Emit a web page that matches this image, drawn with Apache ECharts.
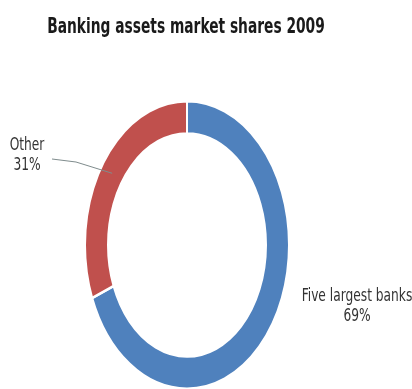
<!DOCTYPE html>
<html>
<head>
<meta charset="utf-8">
<script src="https://cdn.jsdelivr.net/npm/echarts@6/dist/echarts.min.js"></script>
<style>
  html, body { margin: 0; padding: 0; background: #ffffff; }
  #chart { width: 412px; height: 389px; }
</style>
</head>
<body>
<div id="chart"></div>
<script>
// Banking assets market shares, 2009 (per cent)
const titleText = 'Banking assets market shares 2009';
const categories = ['Five largest banks', 'Other'];
const shares = [69, 31];
const sliceColors = ['#4F81BD', '#C0504D'];

const FONT = '"Liberation Sans Narrow", "DejaVu Sans Condensed", "Open Sans", sans-serif';

// Ring geometry: drawn as a vertically stretched doughnut
const CX = 187, CY = 245, R_OUT = 102, R_IN = 79, STRETCH = 1.41;
// Text is narrowed horizontally to suit the stretched layout
const TEXT_SQUEEZE = 0.8;

const total = shares.reduce((a, b) => a + b, 0);

function sliceAngles(idx) {
  let before = 0;
  for (let i = 0; i < idx; i++) before += shares[i];
  const start = -Math.PI / 2 + (before / total) * Math.PI * 2;
  const end = start + (shares[idx] / total) * Math.PI * 2;
  return [start, end];
}

// Label anchors (text block top-centre) for each category
const labelPos = [
  { x: 357, y: 287, leader: false },
  { x: 27, y: 136, leader: true, lineStart: [52, 159], lineBend: [76, 162] }
];

function renderItem(params, api) {
  const i = params.dataIndex;
  const value = api.value(1);
  const [a0, a1] = sliceAngles(i);
  const children = [
    {
      type: 'group',
      x: CX,
      y: CY,
      scaleY: STRETCH,
      children: [{
        type: 'sector',
        shape: { cx: 0, cy: 0, r: R_OUT, r0: R_IN, startAngle: a0, endAngle: a1, clockwise: true },
        style: { fill: sliceColors[i], stroke: '#ffffff', lineWidth: 2 }
      }]
    },
    {
      type: 'text',
      x: labelPos[i].x,
      y: labelPos[i].y,
      scaleX: TEXT_SQUEEZE,
      style: {
        text: categories[i] + '\n' + value + '%',
        x: 0,
        y: 0,
        align: 'center',
        verticalAlign: 'top',
        font: '17px ' + FONT,
        lineHeight: 20,
        fill: '#333333'
      }
    }
  ];
  if (labelPos[i].leader) {
    const mid = (a0 + a1) / 2;
    const rm = (R_OUT + R_IN) / 2;
    const end = [CX + rm * Math.cos(mid), CY + rm * Math.sin(mid) * STRETCH];
    children.push({
      type: 'polyline',
      shape: { points: [labelPos[i].lineStart, labelPos[i].lineBend, end] },
      style: { stroke: '#7f8c8d', lineWidth: 1, fill: null }
    });
  }
  return { type: 'group', children };
}

const chart = echarts.init(document.getElementById('chart'), null, { renderer: 'canvas' });
chart.setOption({
  backgroundColor: '#ffffff',
  animation: false,
  graphic: [{
    type: 'text',
    x: 186,
    y: 17,
    scaleX: 0.73,
    style: {
      text: titleText,
      x: 0,
      y: 0,
      align: 'center',
      verticalAlign: 'top',
      font: 'bold 21px ' + FONT,
      fill: '#1a1a1a'
    }
  }],
  series: [{
    type: 'custom',
    coordinateSystem: 'none',
    renderItem: renderItem,
    data: categories.map((c, i) => [i, shares[i]])
  }]
});
</script>
</body>
</html>
